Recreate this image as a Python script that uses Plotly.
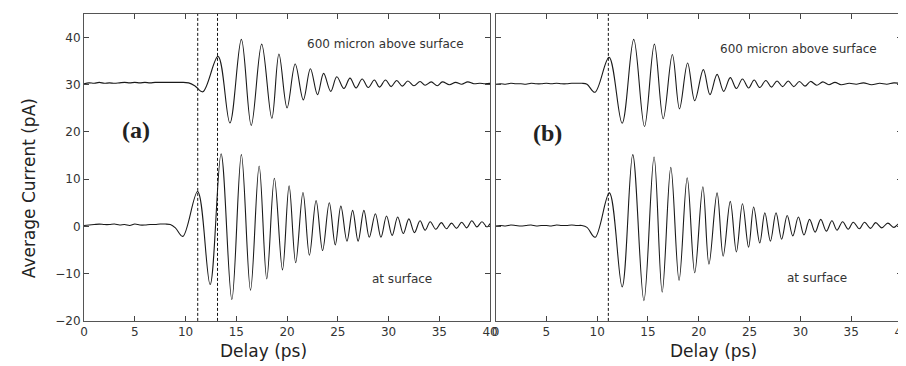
import plotly.graph_objects as go

# ---------------- data ----------------
# Panel (a): 600 micron above surface
a_top_t = [0, 0.5, 1, 1.5, 2, 2.5, 3, 3.5, 4, 4.5, 5, 5.5, 6, 6.5, 7, 7.5, 8, 8.5, 9, 9.6, 10.3,
           10.9, 11.7, 13.2, 14.37, 15.5, 16.47, 17.5, 18.5, 19.2, 20.0, 20.8, 21.6, 22.3, 23.0,
           23.6, 24.3, 24.9, 25.6, 26.2, 26.8, 27.4, 28.0, 28.6, 29.1, 29.7, 30.25, 30.8, 31.35,
           31.9, 32.5, 33.1, 33.6, 34.2, 34.8, 35.3, 36.0, 36.6, 37.2, 37.8, 38.4, 39.0, 39.5, 40]
a_top_v = [30.2, 30.4, 30.3, 30.5, 30.3, 30.4, 30.3, 30.4, 30.5, 30.4, 30.5, 30.4, 30.5, 30.4, 30.5,
           30.5, 30.5, 30.5, 30.5, 30.5, 30.4, 29.8, 28.5, 36.0, 21.9, 39.6, 21.4, 38.6, 22.9, 36.5,
           25.1, 34.4, 26.8, 33.4, 27.9, 32.4, 28.6, 31.7, 29.2, 31.4, 29.3, 31.2, 29.4, 31.0, 29.5,
           31.0, 29.6, 30.9, 29.7, 30.8, 29.8, 30.7, 29.9, 30.6, 29.8, 30.6, 30.0, 30.5, 30.1, 30.6,
           30.2, 30.3, 30.2, 30.3]
# Panel (a): at surface
a_bot_t = [0, 0.5, 1, 1.5, 2, 2.5, 3, 3.5, 4, 4.5, 5, 5.5, 6, 6.5, 7, 7.5, 8, 8.5, 9.0, 9.73,
           11.19, 12.42, 13.5, 14.56, 15.5, 16.4, 17.25, 18.0, 18.75, 19.55, 20.2, 20.85, 21.57,
           22.2, 22.86, 23.5, 24.16, 24.75, 25.3, 25.9, 26.46, 27.0, 27.57, 28.1, 28.7, 29.25, 29.8,
           30.35, 30.9, 31.45, 32.0, 32.55, 33.1, 33.6, 34.1, 34.65, 35.2, 35.7, 36.2, 36.7, 37.2,
           37.7, 38.2, 38.7, 39.2, 39.7, 40]
a_bot_v = [0.2, 0.3, 0.4, 0.5, 0.4, 0.4, 0.5, 0.3, 0.4, 0.2, 0.5, 0.3, 0.3, 0.4, 0.4, 0.5, 0.5, 0.4,
           -0.3, -2.1, 7.4, -12.3, 15.4, -15.5, 15.2, -13.5, 12.8, -11.1, 10.2, -9.2, 8.6, -7.7, 7.2,
           -6.1, 5.5, -5.1, 5.0, -3.9, 4.3, -3.1, 3.4, -3.1, 3.4, -2.3, 2.7, -2.3, 2.2, -1.9, 2.0,
           -1.5, 1.6, -1.3, 1.2, -0.8, 1.0, -0.6, 0.8, -0.5, 0.7, -0.4, 0.9, -0.3, 1.2, -0.1, 1.0,
           -0.1, 0.6]
# Panel (b): 600 micron above surface
b_top_t = [0, 0.5, 1, 1.5, 2, 2.5, 3, 3.5, 4, 4.5, 5, 5.5, 6, 6.5, 7, 7.5, 8, 8.5, 9.0, 9.78,
           11.17, 12.46, 13.6, 14.66, 15.63, 16.5, 17.4, 18.1, 18.9, 19.6, 20.45, 21.1, 21.8, 22.45,
           23.1, 23.7, 24.3, 24.9, 25.45, 26.0, 26.6, 27.15, 27.7, 28.25, 28.8, 29.35, 29.9, 30.45,
           31.0, 31.6, 32.2, 32.8, 33.4, 34.0, 34.8, 35.5, 36.2, 37.0, 37.8, 38.5, 39.2, 40]
b_top_v = [30.1, 30.2, 30.1, 30.3, 30.2, 30.2, 30.1, 30.3, 30.2, 30.2, 30.3, 30.2, 30.3, 30.2, 30.2,
           30.3, 30.3, 30.3, 30.1, 28.4, 35.8, 21.85, 39.6, 21.15, 38.6, 22.8, 36.4, 24.9, 34.6,
           26.6, 33.2, 27.9, 32.2, 28.6, 31.5, 29.2, 31.2, 29.3, 31.0, 29.4, 30.9, 29.5, 30.8, 29.6,
           30.8, 29.6, 30.7, 29.7, 30.7, 29.9, 30.6, 30.0, 30.5, 30.0, 30.3, 30.1, 30.4, 30.0, 30.3,
           30.1, 30.4, 30.2]
# Panel (b): at surface
b_bot_t = [0, 0.5, 1, 1.5, 2, 2.5, 3, 3.5, 4, 4.5, 5, 5.5, 6, 6.5, 7, 7.5, 8, 8.5, 9.0, 9.8,
           11.2, 12.46, 13.5, 14.6, 15.6, 16.4, 17.25, 18.06, 18.86, 19.6, 20.4, 21.0, 21.8, 22.4,
           23.1, 23.7, 24.3, 24.9, 25.4, 26.0, 26.5, 27.05, 27.6, 28.15, 28.7, 29.25, 29.8, 30.35,
           30.9, 31.45, 32.0, 32.55, 33.1, 33.6, 34.15, 34.7, 35.2, 35.8, 36.3, 36.9, 37.4, 38.0,
           38.6, 39.2, 39.7, 40]
b_bot_v = [0.1, 0.2, 0.1, 0.3, 0.2, 0.1, 0.2, 0.3, 0.1, 0.2, 0.2, 0.1, 0.3, 0.2, 0.2, 0.3, 0.2, 0.2,
           -0.2, -2.3, 7.1, -12.8, 15.2, -15.7, 14.7, -13.9, 12.5, -11.4, 10.3, -9.8, 8.4, -8.0, 7.1,
           -6.3, 5.3, -5.4, 4.8, -4.4, 4.1, -3.5, 2.9, -3.1, 2.9, -2.7, 2.3, -2.0, 2.0, -1.8, 1.5,
           -1.2, 1.5, -1.0, 1.2, -0.8, 1.0, -0.6, 0.9, -0.5, 0.9, -0.4, 0.8, -0.3, 0.7, -0.2, 0.6,
           0.3]

dashed_a = [11.2, 13.15]
dashed_b = [11.1]

x_ticks = [0, 5, 10, 15, 20, 25, 30, 35, 40]
y_ticks = [-20, -10, 0, 10, 20, 30, 40]

# ---------------- figure ----------------
W, H = 906, 366
line_style = dict(color="#1a1a1a", width=1.1, shape="spline", smoothing=1.0)

fig = go.Figure()
for t, v, xa, ya in [(a_top_t, a_top_v, "x", "y"), (a_bot_t, a_bot_v, "x", "y"),
                     (b_top_t, b_top_v, "x2", "y2"), (b_bot_t, b_bot_v, "x2", "y2")]:
    fig.add_trace(go.Scatter(x=t, y=v, mode="lines", line=line_style, xaxis=xa, yaxis=ya,
                             showlegend=False, hoverinfo="skip"))

ydom = [(H - 319) / H, (H - 6) / H]
axis_common = dict(range=[0, 40], tickvals=x_ticks, ticks="inside", ticklen=5, tickcolor="#444",
                   showline=True, linecolor="#555", linewidth=1, mirror="ticks",
                   showgrid=False, zeroline=False,
                   tickfont=dict(family="DejaVu Sans", size=12, color="#333"))
yaxis_common = dict(range=[-20, 45], tickvals=y_ticks, ticks="inside", ticklen=5, tickcolor="#444",
                    showline=True, linecolor="#555", linewidth=1, mirror="ticks",
                    showgrid=False, zeroline=False, domain=ydom,
                    tickfont=dict(family="DejaVu Sans", size=12, color="#333"))

fig.update_layout(
    width=W, height=H, margin=dict(l=0, r=0, t=0, b=0),
    paper_bgcolor="white", plot_bgcolor="white",
    xaxis=dict(axis_common, domain=[73 / W, 484.5 / W], anchor="y"),
    xaxis2=dict(axis_common, domain=[490 / W, 902 / W], anchor="y2"),
    yaxis=dict(yaxis_common, anchor="x"),
    yaxis2=dict(yaxis_common, anchor="x2", showticklabels=False),
)

shapes = []
for xv in dashed_a:
    shapes.append(dict(type="line", xref="x", yref="y domain", x0=xv, x1=xv, y0=0, y1=1,
                       line=dict(color="#111", width=1, dash="3px,2px")))
for xv in dashed_b:
    shapes.append(dict(type="line", xref="x2", yref="y2 domain", x0=xv, x1=xv, y0=0, y1=1,
                       line=dict(color="#111", width=1, dash="3px,2px")))
fig.update_layout(shapes=shapes)

small = dict(family="DejaVu Sans", size=12, color="#333")
ann = [
    dict(text="600 micron above surface", xref="paper", yref="paper",
         x=297 / W, y=1 - 37 / H, xanchor="left", yanchor="middle", showarrow=False, font=small),
    dict(text="at surface", xref="paper", yref="paper",
         x=363 / W, y=1 - 276 / H, xanchor="left", yanchor="middle", showarrow=False, font=small),
    dict(text="600 micron above surface", xref="paper", yref="paper",
         x=715 / W, y=1 - 42 / H, xanchor="left", yanchor="middle", showarrow=False, font=small),
    dict(text="at surface", xref="paper", yref="paper",
         x=783 / W, y=1 - 275 / H, xanchor="left", yanchor="middle", showarrow=False, font=small),
    dict(text="<b>(a)</b>", xref="paper", yref="paper", x=126 / W, y=1 - 124 / H,
         xanchor="center", yanchor="middle", showarrow=False,
         font=dict(family="Liberation Serif", size=24, color="#222")),
    dict(text="<b>(b)</b>", xref="paper", yref="paper", x=543 / W, y=1 - 127 / H,
         xanchor="center", yanchor="middle", showarrow=False,
         font=dict(family="Liberation Serif", size=24, color="#222")),
    dict(text="Delay (ps)", xref="paper", yref="paper", x=255 / W, y=1 - 350 / H,
         xanchor="center", yanchor="middle", showarrow=False,
         font=dict(family="DejaVu Sans", size=17, color="#222")),
    dict(text="Delay (ps)", xref="paper", yref="paper", x=711 / W, y=1 - 350 / H,
         xanchor="center", yanchor="middle", showarrow=False,
         font=dict(family="DejaVu Sans", size=17, color="#222")),
    dict(text="Average Current (pA)", xref="paper", yref="paper", x=18 / W, y=1 - 184 / H,
         xanchor="center", yanchor="middle", showarrow=False, textangle=-90,
         font=dict(family="DejaVu Sans", size=17, color="#222")),
]
fig.update_layout(annotations=ann)

fig.write_html("out.html")
